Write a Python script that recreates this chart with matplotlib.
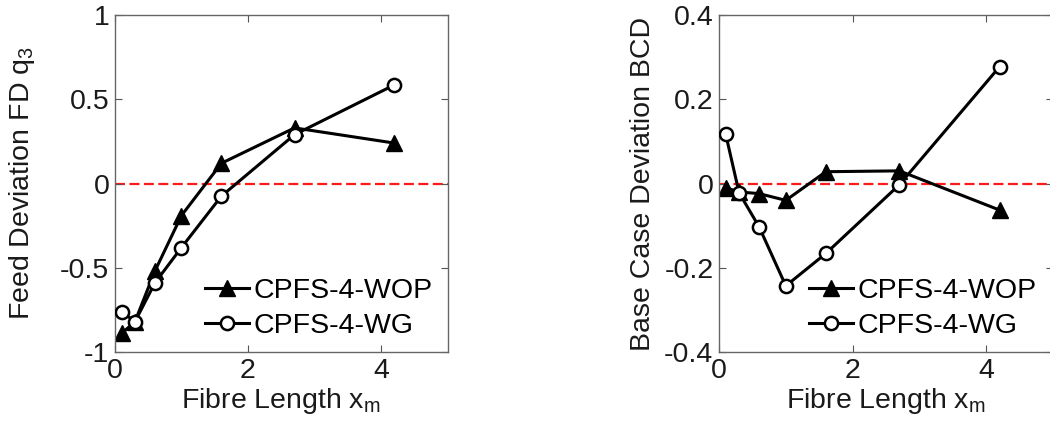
import matplotlib
matplotlib.use('Agg')
import matplotlib.pyplot as plt

plt.rcParams['font.family'] = ['Liberation Sans', 'DejaVu Sans']
plt.rcParams['axes.unicode_minus'] = False

# fibre length positions
fibre_len = [0.1, 0.3, 0.6, 1.0, 1.6, 2.7, 4.2]

# feed deviation FD q3
fd_wop = [-0.89, -0.82, -0.52, -0.19, 0.12, 0.33, 0.24]
fd_wg = [-0.76, -0.82, -0.59, -0.38, -0.075, 0.29, 0.585]

# base case deviation BCD
bcd_wop = [-0.01, -0.02, -0.024, -0.04, 0.028, 0.03, -0.063]
bcd_wg = [0.117, -0.022, -0.103, -0.243, -0.166, -0.003, 0.277]

series_names = ['CPFS-4-WOP', 'CPFS-4-WG']
x_ticks = [0, 2, 4]
fd_ticks = [-1, -0.5, 0, 0.5, 1]
fd_tick_labels = ['-1', '-0.5', '0', '0.5', '1']
bcd_ticks = [-0.4, -0.2, 0, 0.2, 0.4]
bcd_tick_labels = ['-0.4', '-0.2', '0', '0.2', '0.4']

fig = plt.figure(figsize=(10.5, 4.3), dpi=100)
ax1 = fig.add_axes([0.1095, 0.1814, 0.3167, 0.7837])
ax2 = fig.add_axes([0.6848, 0.1814, 0.318, 0.7837])

FS = 20.5


def draw_panel(ax, wop, wg, ylim, yticks, ylabels, ylabel, ypad):
    ax.axhline(0, color='#ff1a1a', lw=1.6, ls=(0, (4.5, 2)), zorder=1)
    ax.plot(fibre_len, wop, color='black', lw=2.2, marker='^', ms=11.5,
            mfc='black', mec='black', label=series_names[0], zorder=2)
    ax.plot(fibre_len, wg, color='black', lw=2.2, marker='o', ms=9.5,
            mfc='white', mec='black', mew=1.8, label=series_names[1], zorder=3)
    ax.set_xlim(0, 5)
    ax.set_ylim(*ylim)
    ax.set_xticks(x_ticks)
    ax.set_xticklabels([str(t) for t in x_ticks])
    ax.set_yticks(yticks)
    ax.set_yticklabels(ylabels)
    ax.tick_params(direction='in', length=5, width=0.8, color='#555555',
                   labelsize=FS, labelcolor='#1a1a1a', top=True, right=True, pad=4)
    for s in ax.spines.values():
        s.set_color('#666666')
        s.set_linewidth(1.0)
    ax.set_xlabel('Fibre Length x$_{\\mathregular{m}}$', fontsize=FS, color='#1a1a1a', labelpad=2)
    ax.set_ylabel(ylabel, fontsize=FS, color='#1a1a1a', labelpad=ypad)
    ax.legend(loc='lower left', bbox_to_anchor=(0.27, 0.04), frameon=False,
              fontsize=FS, handlelength=1.55, handletextpad=0.15, labelspacing=0.3,
              borderpad=0, borderaxespad=0)


draw_panel(ax1, fd_wop, fd_wg, (-1, 1), fd_ticks, fd_tick_labels,
           'Feed Deviation FD q$_{\\mathregular{3}}$', 17)
draw_panel(ax2, bcd_wop, bcd_wg, (-0.4, 0.4), bcd_ticks, bcd_tick_labels,
           'Base Case Deviation BCD', 6)

fig.savefig('out.png', dpi=100)
